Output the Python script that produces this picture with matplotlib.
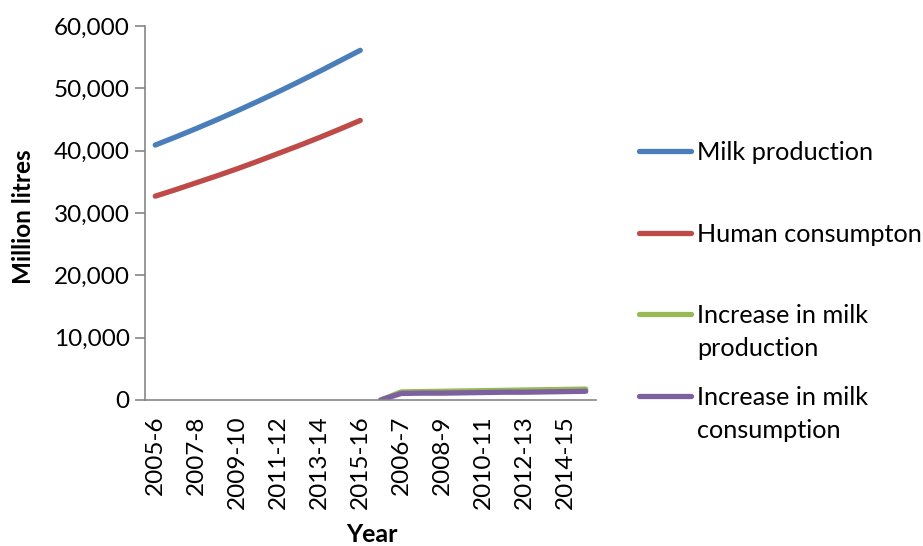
import matplotlib
matplotlib.use("Agg")
import matplotlib.pyplot as plt
from matplotlib.lines import Line2D
from matplotlib.ticker import FuncFormatter
import numpy as np

plt.rcParams['font.family'] = ['Lato', 'DejaVu Sans']

years_a = ["2005-6", "2006-7", "2007-8", "2008-9", "2009-10", "2010-11",
           "2011-12", "2012-13", "2013-14", "2014-15", "2015-16"]
years_b = ["2005-6", "2006-7", "2007-8", "2008-9", "2009-10", "2010-11",
           "2011-12", "2012-13", "2013-14", "2014-15", "2015-16"]
categories = years_a + years_b

milk_production = [40900, 42200, 43550, 44950, 46400, 47900, 49450, 51050, 52700, 54400, 56100]
human_consumption = [32700, 33750, 34850, 35950, 37100, 38300, 39550, 40800, 42100, 43450, 44850]
increase_production = [0, 1300, 1350, 1400, 1450, 1500, 1550, 1600, 1650, 1700, 1750]
increase_consumption = [0, 1050, 1100, 1100, 1150, 1200, 1250, 1250, 1300, 1350, 1400]

series_names = ["Milk production", "Human consumpton",
                "Increase in milk\nproduction", "Increase in milk\nconsumption"]
colors = ["#4A7EBB", "#BE4B48", "#98B954", "#7D60A0"]

n = len(categories)
na = len(years_a)
x = np.arange(n)

def pad_first(vals):
    return list(vals) + [np.nan] * (n - len(vals))

def pad_second(vals):
    return [np.nan] * na + list(vals)

fig = plt.figure(figsize=(9.23, 5.46), dpi=100)
ax = fig.add_axes([145/923, 1 - 400/546, (596 - 145)/923, (400 - 26)/546])

lw = 3.8
ys = [pad_first(milk_production), pad_first(human_consumption),
      pad_second(increase_production), pad_second(increase_consumption)]
for y, c in zip(ys, colors):
    ax.plot(x, y, color=c, lw=lw, solid_capstyle='round', solid_joinstyle='round')

ax.set_xlim(-0.5, n - 0.5)
ax.set_ylim(0, 60000)
ax.set_yticks(np.arange(0, 60001, 10000))
ax.yaxis.set_major_formatter(FuncFormatter(lambda v, p: f"{int(v):,}"))
ax.set_xticks(x[::2])
ax.set_xticklabels(categories[::2], rotation=90, fontsize=17.5)
ax.tick_params(axis='x', length=0, pad=11)
ax.tick_params(axis='y', length=7, width=1.2, color="#868686", labelsize=17.5, pad=4)

for s in ['top', 'right']:
    ax.spines[s].set_visible(False)
for s in ['left', 'bottom']:
    ax.spines[s].set_color("#868686")
    ax.spines[s].set_linewidth(1.2)

fig.text(24/923, 1 - 217/546, "Million litres", rotation=90, fontsize=17.5, fontweight='bold',
         ha='center', va='center')
fig.text(372/923, 1 - 535/546, "Year", fontsize=18, fontweight='bold', ha='center', va='center')

# legend
leg_y = [151, 233, 314, 396]
for name, c, yy in zip(series_names, colors, leg_y):
    fig.add_artist(Line2D([639/923, 691/923], [1 - yy/546, 1 - yy/546], color=c, lw=lw,
                          solid_capstyle='round'))
    fig.text(697/923, 1 - (yy - 10)/546, name, fontsize=18.2, ha='left', va='top',
             linespacing=1.55)

fig.savefig("out.png", dpi=100)
